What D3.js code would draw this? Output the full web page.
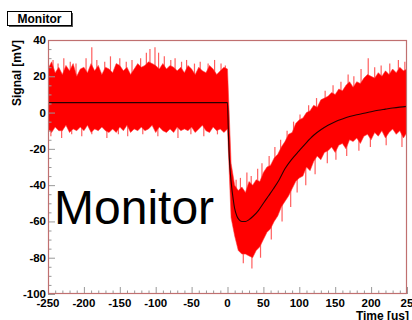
<!DOCTYPE html>
<html>
<head>
<meta charset="utf-8">
<script src="https://cdn.jsdelivr.net/npm/d3@7"></script>
<style>
  body { margin: 0; background: #fff; }
  svg { display: block; font-family: "Liberation Sans", Arial, Helvetica, sans-serif; }
  .tick-label { font-size: 11.5px; font-weight: bold; fill: #000; }
  .axis-title { font-size: 12px; font-weight: bold; fill: #000; }
</style>
</head>
<body>
<svg id="chart" width="412" height="320"></svg>
<script>
// Signal band, one sample every 5 us from -250 to 250.
const sampleTime = d3.range(-250, 251, 5);

// upper edge of the dense red band (mV)
const bandHigh = [
  24, 28, 22, 25, 21, 26, 23, 27, 20, 24,
  25, 22, 27, 23, 26, 21, 25, 24, 22, 27,
  26, 23, 25, 21, 24, 27, 25, 26, 28, 27,
  26, 24, 27, 24, 26, 25, 23, 25, 22, 26,
  24, 21, 25, 23, 22, 26, 24, 21, 23, 25, 24,
  -28, -40, -43, -41, -44, -38, -40, -37, -38, -33,
  -30, -29, -25, -23, -19, -16, -12, -11, -6, -4,
  -3, 0, 1, 4, 3, 7, 8, 9, 11, 10,
  13, 12, 15, 17, 14, 17, 16, 19, 21, 20,
  19, 22, 20, 23, 21, 24, 22, 25, 23, 24
];

// lower edge of the dense red band (mV)
const bandLow = [
  -9, -11, -8, -10, -10, -7, -11, -9, -10, -8,
  -10, -7, -11, -9, -10, -8, -10, -11, -9, -11,
  -8, -10, -7, -11, -9, -10, -8, -10, -9, -7,
  -11, -8, -10, -11, -9, -11, -8, -10, -9, -10,
  -8, -11, -9, -7, -10, -11, -8, -10, -9, -11, -9,
  -58, -68, -76, -78, -78, -79, -80, -76, -74, -70,
  -66, -64, -60, -57, -52, -49, -46, -42, -38, -36,
  -35, -30, -32, -27, -24, -26, -22, -21, -19, -22,
  -18, -17, -20, -15, -16, -14, -17, -13, -12, -15,
  -11, -13, -10, -14, -11, -9, -12, -10, -14, -11
];

// isolated noise spikes sticking out of the band
const spikeUpTime = [-243, -236, -228, -219, -211, -197, -189, -182, -171, -163, -150, -141, -133, -121,
  -113, -108, -101, -96, -88, -79, -73, -64, -57, -46, -38, -27, -18, -9, -3,
  12, 18, 27, 33, 42, 48, 58, 66, 74, 83, 92, 101, 113, 124, 136, 147, 158, 168, 176, 186,
  196, 205, 214, 226, 238, 247];
const spikeUpValue = [29, 27, 30, 28, 27, 30, 36, 29, 28, 31, 30, 28, 29, 30,
  33, 35, 36, 33, 31, 29, 30, 28, 29, 27, 28, 27, 29, 27, 26,
  -37, -36, -33, -35, -31, -28, -24, -19, -15, -10, -5, -1, 4, 8, 12, 15, 17, 21, 20, 24,
  30, 25, 26, 27, 29, 28];
const spikeDownTime = [-246, -231, -217, -203, -189, -168, -152, -139, -118, -97, -69, -51, -33, -14,
  22, 34, 46, 61, 76, 88, 97, 109, 122, 139, 151, 166, 183, 199, 221, 243];
const spikeDownValue = [-13, -14, -12, -13, -12, -14, -12, -13, -12, -13, -14, -12, -13, -12,
  -83, -86, -80, -70, -60, -52, -44, -40, -34, -28, -26, -24, -21, -19, -18, -19];

// fitted curve (black line)
const fitTime = [-250, -100, 0, 1, 2, 3.5, 5, 8, 10, 13, 16, 20, 25, 30, 36, 43, 50, 57, 64, 72,
  80, 90, 100, 110, 120, 130, 140, 150, 160, 170, 180, 190, 200, 210, 220, 230, 240, 250];
const fitSignal = [5.5, 5.5, 5.5, -8, -20, -31, -38, -48, -53, -57, -59, -60, -60, -59, -57, -54, -50, -46, -42, -37,
  -31, -25.5, -21, -16.5, -12.5, -9.5, -7, -5, -3.5, -2.2, -1.2, -0.4, 0.5, 1.3, 1.9, 2.5, 3, 3.4];

const xTicks = [-250, -200, -150, -100, -50, 0, 50, 100, 150, 200, 250];
const xTickText = ['-250', '-200', '-150', '-100', '-50', '0', '50', '100', '150', '200', '25'];
const yTicks = [40, 20, 0, -20, -40, -60, -80, -100];

const M = { top: 40, right: 5, bottom: 26, left: 48 };
const W = 412, H = 320;
const iW = W - M.left - M.right;
const iH = H - M.top - M.bottom;

const svg = d3.select('#chart');
svg.append('rect').attr('width', W).attr('height', H).attr('fill', '#fff');

const x = d3.scaleLinear().domain([-250, 250]).range([0, iW]);
const y = d3.scaleLinear().domain([-100, 40]).range([iH, 0]);
// fit value at any time, used as the foot of each spike
const fitAt = d3.scaleLinear().domain(fitTime).range(fitSignal);

const g = svg.append('g').attr('transform', `translate(${M.left},${M.top})`);

g.append('clipPath').attr('id', 'frame-clip')
  .append('rect').attr('width', iW).attr('height', iH);
const plot = g.append('g').attr('clip-path', 'url(#frame-clip)');

// spikes first, so the band covers their feet
plot.selectAll('.spike-up')
  .data(spikeUpTime)
  .join('line')
  .attr('x1', d => x(d)).attr('x2', d => x(d))
  .attr('y1', d => y(fitAt(d)))
  .attr('y2', (d, i) => y(spikeUpValue[i]))
  .attr('stroke', 'rgba(255,40,40,0.75)')
  .attr('stroke-width', 1.2);

plot.selectAll('.spike-down')
  .data(spikeDownTime)
  .join('line')
  .attr('x1', d => x(d)).attr('x2', d => x(d))
  .attr('y1', d => y(fitAt(d)))
  .attr('y2', (d, i) => y(spikeDownValue[i]))
  .attr('stroke', 'rgba(255,40,40,0.75)')
  .attr('stroke-width', 1.2);

// dense band
const band = d3.area()
  .x((d, i) => x(sampleTime[i]))
  .y0((d, i) => y(bandLow[i]))
  .y1((d, i) => y(bandHigh[i]));

plot.append('path')
  .attr('d', band(sampleTime))
  .attr('fill', '#ff0000')
  .attr('stroke', 'rgba(255,60,60,0.55)')
  .attr('stroke-width', 1);

// fit
const fitLine = d3.line()
  .x((d, i) => x(fitTime[i]))
  .y((d, i) => y(fitSignal[i]))
  .curve(d3.curveMonotoneX);

plot.append('path')
  .attr('d', fitLine(fitTime))
  .attr('fill', 'none')
  .attr('stroke', '#2a0000')
  .attr('stroke-width', 1.1);

// ticks drawn inside the frame, ROOT style
const xMinor = d3.range(-250, 251, 10);
const yMinor = d3.range(-100, 41, 5);

g.selectAll('.xtick')
  .data(xMinor)
  .join('line')
  .attr('x1', d => x(d) + 0.5).attr('x2', d => x(d) + 0.5)
  .attr('y1', iH).attr('y2', d => iH - (d % 50 === 0 ? 7 : 3.5))
  .attr('stroke', '#999').attr('stroke-width', 1);

g.selectAll('.ytick')
  .data(yMinor)
  .join('line')
  .attr('y1', d => y(d) + 0.5).attr('y2', d => y(d) + 0.5)
  .attr('x1', 0).attr('x2', d => (d % 20 === 0 ? 7 : 3.5))
  .attr('stroke', '#999').attr('stroke-width', 1);

// frame
g.append('rect')
  .attr('x', 0.5).attr('y', 0.5)
  .attr('width', iW - 1).attr('height', iH - 1)
  .attr('fill', 'none')
  .attr('stroke', '#c07070')
  .attr('stroke-width', 1.2);

// tick labels
g.selectAll('.xlab')
  .data(xTicks)
  .join('text')
  .attr('class', 'tick-label')
  .attr('x', d => x(d))
  .attr('y', iH + 13)
  .attr('text-anchor', 'middle')
  .text((d, i) => xTickText[i]);

g.selectAll('.ylab')
  .data(yTicks)
  .join('text')
  .attr('class', 'tick-label')
  .attr('x', -2)
  .attr('y', d => y(d) + 4)
  .attr('text-anchor', 'end')
  .text(d => d);

// axis titles
svg.append('text').attr('class', 'axis-title')
  .attr('x', M.left + iW + 2).attr('y', 319.5)
  .attr('text-anchor', 'end')
  .text('Time [us]');

svg.append('text').attr('class', 'axis-title')
  .attr('transform', `translate(21,${M.top}) rotate(-90)`)
  .attr('text-anchor', 'end')
  .text('Signal [mV]');

// title box with shadow
svg.append('rect').attr('x', 9).attr('y', 13).attr('width', 64).attr('height', 14).attr('fill', '#555');
svg.append('rect').attr('x', 7.5).attr('y', 11.5).attr('width', 64).attr('height', 14)
  .attr('fill', '#fff').attr('stroke', '#000').attr('stroke-width', 1);
svg.append('text')
  .attr('x', 39.5).attr('y', 23)
  .attr('text-anchor', 'middle')
  .style('font-size', '12px').style('font-weight', 'bold')
  .text('Monitor');

// big overlay label
svg.append('text')
  .attr('x', 54).attr('y', 223.5)
  .style('font-size', '48px')
  .attr('fill', '#000')
  .text('Monitor');
</script>
</body>
</html>
